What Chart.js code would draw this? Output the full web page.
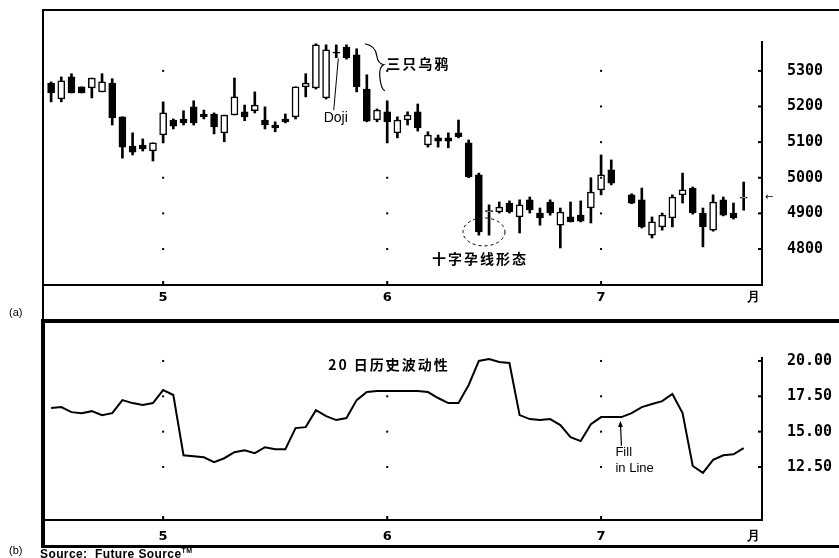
<!DOCTYPE html>
<html>
<head>
<meta charset="utf-8">
<script src="https://cdn.jsdelivr.net/npm/chart.js@4.4.1/dist/chart.umd.min.js"></script>
<style>
  html, body { margin: 0; padding: 0; background: #fff; }
  #page { position: relative; width: 839px; height: 558px; overflow: hidden; background: #fff; font-family: 'Liberation Sans', Arial, sans-serif; color: #000; }
  canvas { position: absolute; left: 0; }
  .rule { position: absolute; background: #000; }
  .lbl { position: absolute; white-space: nowrap; }
</style>
</head>
<body>
<div id="page">
  <canvas id="priceChart" width="839" height="319" style="top:0"></canvas>
  <canvas id="volChart" width="839" height="222" style="top:323px"></canvas>
  <div class="rule" style="left:42px;top:9px;width:797px;height:2px"></div>
  <div class="rule" style="left:42px;top:9px;width:2px;height:312px"></div>
  <div class="rule" style="left:41px;top:319px;width:798px;height:4px"></div>
  <div class="rule" style="left:41px;top:319px;width:4px;height:229px"></div>
  <div class="rule" style="left:41px;top:545px;width:798px;height:3px"></div>
  <div class="lbl" style="left:9px;top:306px;font-size:11px;line-height:12px">(a)</div>
  <div class="lbl" style="left:9px;top:544px;font-size:11px;line-height:12px">(b)</div>
  <div class="lbl" style="left:40px;top:545px;font-size:12px;line-height:12px;font-weight:bold;letter-spacing:0.4px">Source:&nbsp; Future Source<sup style="font-size:7px">TM</sup></div>
</div>
<script>
// Daily candles (trading-day index, one slot skipped for the July holiday)
const candleIdx = [
  0, 1, 2, 3, 4, 5, 6, 7, 8, 9, 10, 11, 12, 13, 14, 15, 16, 17, 18, 19,
  20, 21, 22, 23, 24, 25, 26, 27, 28, 29, 30, 31, 32, 33, 34, 35, 36, 37, 38, 39,
  40, 41, 42, 43, 44, 45, 46, 47, 48, 49, 50, 51, 52, 53, 54, 55,
  57, 58, 59, 60, 61, 62, 63, 64, 65, 66, 67, 68
];
const opens = [
  5266, 5221, 5283, 5255, 5252, 5241, 5266, 5171, 5089, 5092, 5075, 5120, 5162, 5165, 5199, 5179, 5179, 5126, 5176, 5185,
  5188, 5162, 5148, 5165, 5171, 5255, 5252, 5224, 5353, 5367, 5345, 5249, 5162, 5185, 5126, 5162, 5185, 5092, 5112, 5112,
  5126, 5098, 5008, 4904, 4904, 4929, 4890, 4938, 4901, 4932, 4867, 4890, 4895, 4915, 4966, 5022,
  4952, 4938, 4839, 4862, 4887, 4952, 4971, 4901, 4853, 4938, 4901, 4943
];
const highs = [
  5269, 5283, 5292, 5255, 5280, 5292, 5278, 5171, 5126, 5109, 5098, 5213, 5165, 5188, 5216, 5190, 5182, 5176, 5280, 5204,
  5241, 5199, 5157, 5179, 5255, 5292, 5376, 5373, 5373, 5373, 5362, 5289, 5193, 5216, 5171, 5185, 5207, 5129, 5120, 5126,
  5162, 5106, 5013, 4924, 4932, 4935, 4938, 4946, 4915, 4938, 4915, 4932, 4935, 5000, 5064, 5050,
  4955, 4971, 4890, 4901, 4952, 5013, 4974, 4915, 4952, 4946, 4929, 4988
];
const lows = [
  5213, 5213, 5238, 5238, 5224, 5241, 5148, 5055, 5064, 5075, 5047, 5098, 5137, 5148, 5148, 5165, 5123, 5101, 5176, 5160,
  5182, 5137, 5129, 5154, 5165, 5227, 5249, 5221, 5337, 5333, 5241, 5157, 5157, 5098, 5112, 5148, 5131, 5086, 5086, 5084,
  5112, 5000, 4839, 4839, 4901, 4901, 4845, 4901, 4867, 4895, 4803, 4876, 4876, 4873, 4952, 4980,
  4927, 4859, 4831, 4853, 4862, 4929, 4898, 4806, 4850, 4893, 4884, 4909
];
const closes = [
  5238, 5272, 5238, 5238, 5280, 5269, 5168, 5086, 5072, 5081, 5098, 5182, 5145, 5154, 5154, 5171, 5143, 5176, 5227, 5171,
  5204, 5148, 5140, 5157, 5255, 5266, 5373, 5359, 5350, 5336, 5255, 5159, 5190, 5157, 5162, 5176, 5140, 5120, 5103, 5103,
  5115, 5002, 4848, 4908, 4918, 4904, 4924, 4910, 4887, 4901, 4904, 4876, 4878, 4960, 5008, 4985,
  4929, 4862, 4876, 4895, 4946, 4966, 4901, 4862, 4932, 4895, 4887, 4946
];

// 20-day historical volatility, one value per trading-day slot
const volIdx = [
  0, 1, 2, 3, 4, 5, 6, 7, 8, 9, 10, 11, 12, 13, 14, 15, 16, 17, 18, 19,
  20, 21, 22, 23, 24, 25, 26, 27, 28, 29, 30, 31, 32, 33, 34, 35, 36, 37, 38, 39,
  40, 41, 42, 43, 44, 45, 46, 47, 48, 49, 50, 51, 52, 53, 54, 55, 56, 57, 58, 59,
  60, 61, 62, 63, 64, 65, 66, 67, 68
];
const volValues = [
  16.67, 16.74, 16.38, 16.31, 16.45, 16.17, 16.31, 17.23, 17.02, 16.88, 17.02, 17.94, 17.59, 13.33, 13.26, 13.19, 12.84, 13.12, 13.55, 13.69,
  13.48, 13.90, 13.76, 13.76, 15.25, 15.32, 16.52, 16.10, 15.82, 15.96, 17.23, 17.80, 17.87, 17.87, 17.87, 17.87, 17.87, 17.80, 17.38, 17.02,
  17.02, 18.30, 20.00, 20.14, 19.93, 19.86, 16.17, 15.89, 15.82, 15.89, 15.46, 14.61, 14.33, 15.53, 16.03, 16.03, 16.03, 16.31, 16.74, 16.95,
  17.16, 17.66, 16.31, 12.57, 12.08, 13.00, 13.33, 13.40, 13.83
];

// Axis ticks
const monthTickIdx = [11, 33, 54];
const monthLabels = ['5', '6', '7'];
const unitIdx = 69;
const unitLabel = '月';
const priceTicks = [4800, 4900, 5000, 5100, 5200, 5300];
const volTicks = [12.5, 15, 17.5, 20];

const X_MIN = -0.6, X_MAX = 69.8;
const TICK_FONT = { family: "'DejaVu Sans Mono', monospace", size: 15, weight: 'bold' };
const MONTH_FONT = { family: "'DejaVu Sans', sans-serif", size: 13, weight: 'bold' };
const CJK = '"Noto Sans CJK SC", sans-serif';

function xAxis(height, pad) {
    return {
        type: 'linear',
        min: X_MIN,
        max: X_MAX,
        offset: false,
        grid: { display: true, drawOnChartArea: false, drawTicks: false, offset: false },
        border: { display: true, color: '#000', width: 2 },
        afterBuildTicks: (s) => { s.ticks = [...monthTickIdx, unitIdx].map(v => ({ value: v })); },
        afterFit: (s) => { s.height = height; },
        ticks: {
            color: '#000',
            font: MONTH_FONT,
            padding: pad,
            maxRotation: 0,
            autoSkip: false,
            callback: (v) => v === unitIdx ? unitLabel : monthLabels[monthTickIdx.indexOf(v)],
        },
    };
}

// gap to labels comes from an invisible tick so it does not eat chart height
function yAxis(min, max, ticks, fmt) {
    return {
        type: 'linear',
        position: 'right',
        min, max,
        grid: { display: true, drawOnChartArea: false, drawTicks: true, tickLength: 24, tickColor: 'rgba(0,0,0,0)' },
        border: { display: true, color: '#000', width: 2 },
        afterBuildTicks: (s) => { s.ticks = ticks.map(v => ({ value: v })); },
        afterFit: (s) => { s.width = 77; },
        ticks: { color: '#000', font: TICK_FONT, padding: 1, callback: fmt },
    };
}

// sparse dot grid at month x / value ticks, small inner tick marks
function drawGridMarks(chart, yTicks) {
    const { ctx, chartArea: a, scales: { x, y } } = chart;
    ctx.save();
    ctx.fillStyle = '#000';
    monthTickIdx.forEach(m => {
        const px = x.getPixelForValue(m);
        yTicks.forEach(t => ctx.fillRect(px - 1, y.getPixelForValue(t) - 1, 2, 2));
        ctx.fillRect(px - 1, a.bottom - 4, 2, 4);
    });
    yTicks.forEach(t => ctx.fillRect(a.right - 4, y.getPixelForValue(t) - 1, 4, 2));
    ctx.restore();
}

function cjkText(ctx, str, px, py) {
    ctx.font = 'bold 14px ' + CJK;
    ctx.letterSpacing = '2px';
    ctx.textAlign = 'left';
    ctx.textBaseline = 'middle';
    ctx.fillText(str, px, py);
    ctx.letterSpacing = '0px';
}

const priceNotes = {
    id: 'priceNotes',
    afterDraw(chart) {
        const { ctx, chartArea: a, scales: { x, y } } = chart;
        drawGridMarks(chart, priceTicks);
        ctx.save();
        ctx.fillStyle = '#000';
        ctx.strokeStyle = '#000';

        // three black crows brace + label
        const bx = x.getPixelForValue(30.8), by = y.getPixelForValue(5376);
        ctx.lineWidth = 1.2;
        ctx.beginPath();
        ctx.moveTo(bx, by);
        ctx.quadraticCurveTo(bx + 11, by + 2, bx + 12, by + 12);
        ctx.quadraticCurveTo(bx + 13, by + 20, bx + 19, by + 21);
        ctx.quadraticCurveTo(bx + 14, by + 23, bx + 15, by + 33);
        ctx.quadraticCurveTo(bx + 16, by + 45, bx + 20, by + 47);
        ctx.stroke();
        cjkText(ctx, '三只乌鸦', x.getPixelForValue(32.9), y.getPixelForValue(5320));

        // Doji label and pointer
        ctx.lineWidth = 1;
        ctx.beginPath();
        ctx.moveTo(x.getPixelForValue(27.75), y.getPixelForValue(5190));
        ctx.lineTo(x.getPixelForValue(28.2), y.getPixelForValue(5335));
        ctx.stroke();
        ctx.font = '14px "Liberation Sans", Arial, sans-serif';
        ctx.textAlign = 'center';
        ctx.textBaseline = 'middle';
        ctx.fillText('Doji', x.getPixelForValue(27.95), y.getPixelForValue(5168));

        // harami cross: dashed ellipse + label
        ctx.setLineDash([3, 3]);
        ctx.lineWidth = 1;
        ctx.beginPath();
        ctx.ellipse(x.getPixelForValue(42.5), y.getPixelForValue(4848), 21, 14, 0, 0, Math.PI * 2);
        ctx.stroke();
        ctx.setLineDash([]);
        cjkText(ctx, '十字孕线形态', x.getPixelForValue(37.4), y.getPixelForValue(4772));

        // last price marker
        ctx.font = '10px "DejaVu Sans", sans-serif';
        ctx.textAlign = 'left';
        ctx.fillText('←', a.right + 3, y.getPixelForValue(4946));
        ctx.restore();
    },
};

const volNotes = {
    id: 'volNotes',
    afterDraw(chart) {
        const { ctx, scales: { x, y } } = chart;
        drawGridMarks(chart, volTicks);
        ctx.save();
        ctx.fillStyle = '#000';
        ctx.strokeStyle = '#000';
        cjkText(ctx, '20 日历史波动性', x.getPixelForValue(27.2), y.getPixelForValue(19.72));

        // Fill in Line pointer
        const ax = x.getPixelForValue(55.9);
        const top = y.getPixelForValue(15.75), bot = y.getPixelForValue(14.0);
        ctx.lineWidth = 1.2;
        ctx.beginPath();
        ctx.moveTo(ax + 1, bot);
        ctx.lineTo(ax, top + 2);
        ctx.stroke();
        ctx.beginPath();
        ctx.moveTo(ax, top);
        ctx.lineTo(ax - 2.5, top + 6);
        ctx.lineTo(ax + 2.5, top + 6);
        ctx.closePath();
        ctx.fill();
        ctx.font = '13px "Liberation Sans", Arial, sans-serif';
        ctx.textAlign = 'left';
        ctx.textBaseline = 'middle';
        ctx.fillText('Fill', ax - 5, y.getPixelForValue(13.56));
        ctx.fillText('in Line', ax - 5, y.getPixelForValue(12.43));
        ctx.restore();
    },
};

const commonOptions = {
    responsive: false,
    animation: false,
    events: [],
    plugins: { legend: { display: false }, tooltip: { enabled: false } },
};

new Chart(document.getElementById('priceChart'), {
    type: 'bar',
    data: {
        datasets: [
            {
                label: 'body',
                data: candleIdx.map((d, i) => ({ x: d, y: [opens[i], closes[i]] })),
                backgroundColor: candleIdx.map((d, i) => closes[i] >= opens[i] ? '#fff' : '#000'),
                borderColor: '#000',
                borderWidth: 1.5,
                borderSkipped: false,
                barThickness: 7,
                grouped: false,
            },
            {
                label: 'wick',
                data: candleIdx.map((d, i) => ({ x: d, y: [lows[i], highs[i]] })),
                backgroundColor: '#000',
                borderWidth: 0,
                barThickness: 2,
                grouped: false,
            },
        ],
    },
    options: {
        ...commonOptions,
        layout: { padding: { left: 45, top: 42, right: 0, bottom: 0 } },
        scales: {
            x: xAxis(34, 5),
            y: yAxis(4699, 5381, priceTicks, (v) => String(v)),
        },
    },
    plugins: [priceNotes],
});

new Chart(document.getElementById('volChart'), {
    type: 'line',
    data: {
        datasets: [{
            label: 'vol',
            data: volIdx.map((d, i) => ({ x: d, y: volValues[i] })),
            borderColor: '#000',
            borderWidth: 2,
            pointRadius: 0,
            tension: 0,
            fill: false,
        }],
    },
    options: {
        ...commonOptions,
        layout: { padding: { left: 45, top: 35, right: 0, bottom: 0 } },
        scales: {
            x: xAxis(25, 9),
            y: yAxis(8.75, 20.21, volTicks, (v) => v.toFixed(2)),
        },
    },
    plugins: [volNotes],
});
</script>
</body>
</html>
